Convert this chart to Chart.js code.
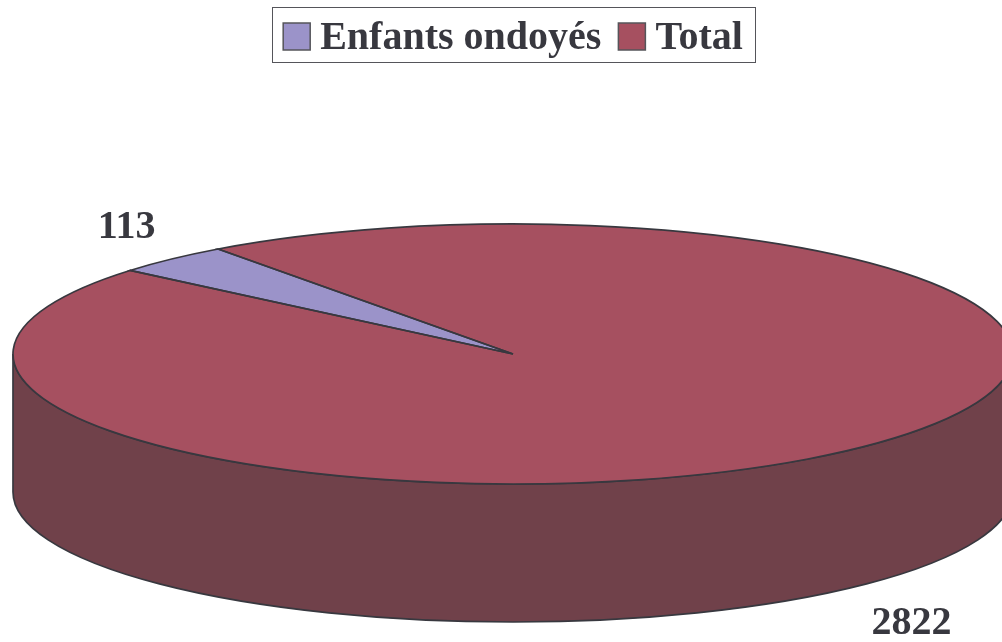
<!DOCTYPE html>
<html>
<head>
<meta charset="utf-8">
<style>html,body{margin:0;padding:0;background:#fff}#wrap{width:1002px;height:642px;position:relative;overflow:hidden}</style>
<script src="https://cdn.jsdelivr.net/npm/chart.js@4/dist/chart.umd.min.js"></script>
</head>
<body>
<div id="wrap"><canvas id="c" width="1002" height="642"></canvas></div>
<script>
const categories = ['Enfants ondoyés', 'Total'];
const values = [113, 2822];
const sliceColors = ['#9b93c9', '#a65060'];
const sideColors = ['#5c5878', '#70414a'];
const labelOffsets = [[-45, -31], [57, 37]];

const INK = '#38383f';
const FONT = 'bold 40px "Liberation Serif"';
const TILT = 0.26;
const DEPTH = 138;

function props(arc) {
  return arc.getProps(['x', 'y', 'startAngle', 'endAngle', 'outerRadius'], true);
}

const pie3d = {
  id: 'pie3d',
  beforeDatasetsDraw(chart) {
    const ctx = chart.ctx;
    const arcs = chart.getDatasetMeta(0).data;
    arcs.forEach((arc, i) => {
      const p = props(arc);
      const ry = p.outerRadius * TILT;
      for (const shift of [0, 2 * Math.PI, -2 * Math.PI]) {
        const a = Math.max(p.startAngle + shift, 0);
        const b = Math.min(p.endAngle + shift, Math.PI);
        if (b <= a) continue;
        ctx.save();
        ctx.beginPath();
        ctx.ellipse(p.x, p.y + DEPTH, p.outerRadius, ry, 0, a, b);
        ctx.ellipse(p.x, p.y, p.outerRadius, ry, 0, b, a, true);
        ctx.closePath();
        ctx.fillStyle = sideColors[i];
        ctx.fill();
        ctx.strokeStyle = INK;
        ctx.lineWidth = 1.7;
        ctx.stroke();
        ctx.restore();
      }
    });
    const p0 = props(arcs[0]);
    ctx.save();
    ctx.translate(p0.x, p0.y);
    ctx.scale(1, TILT);
    ctx.translate(-p0.x, -p0.y);
  },
  afterDatasetsDraw(chart) {
    const ctx = chart.ctx;
    ctx.restore();
    const arcs = chart.getDatasetMeta(0).data;
    arcs.forEach((arc, i) => {
      const p = props(arc);
      const ry = p.outerRadius * TILT;
      ctx.save();
      ctx.beginPath();
      ctx.moveTo(p.x, p.y);
      ctx.ellipse(p.x, p.y, p.outerRadius, ry, 0, p.startAngle, p.endAngle);
      ctx.closePath();
      ctx.strokeStyle = INK;
      ctx.lineWidth = 1.7;
      ctx.lineJoin = 'miter';
      ctx.stroke();
      ctx.restore();

      const mid = (p.startAngle + p.endAngle) / 2;
      const below = Math.sin(mid) > 0 ? DEPTH : 0;
      const lx = p.x + Math.cos(mid) * p.outerRadius + labelOffsets[i][0];
      const ly = p.y + Math.sin(mid) * ry + below + labelOffsets[i][1];
      ctx.save();
      ctx.font = FONT;
      ctx.fillStyle = INK;
      ctx.textAlign = 'center';
      ctx.textBaseline = 'middle';
      ctx.fillText(String(values[i]), lx, ly);
      ctx.restore();
    });
  },
  afterDraw(chart) {
    const ctx = chart.ctx;
    const lg = chart.legend;
    const boxes = lg.legendHitBoxes;
    const first = boxes[0], last = boxes[boxes.length - 1];
    ctx.save();
    ctx.strokeStyle = '#55555a';
    ctx.lineWidth = 1;
    const x0 = Math.round(first.left - 11) + 0.5;
    const x1 = Math.round(last.left + last.width + 12) + 0.5;
    ctx.strokeRect(x0, 7.5, x1 - x0, 55);
    boxes.forEach((b, i) => {
      ctx.fillStyle = sliceColors[i];
      ctx.fillRect(b.left, 23, 27, 27);
      ctx.strokeStyle = '#55555a';
      ctx.lineWidth = 1.5;
      ctx.strokeRect(b.left, 23, 27, 27);
    });
    ctx.restore();
  }
};

new Chart(document.getElementById('c'), {
  type: 'pie',
  data: {
    labels: categories,
    datasets: [{ data: values, backgroundColor: sliceColors, borderWidth: 0, hoverOffset: 0 }]
  },
  options: {
    responsive: false,
    animation: false,
    rotation: -50,
    radius: 500,
    events: [],
    layout: { padding: { left: 24, top: 2, right: 0, bottom: 3 } },
    plugins: {
      tooltip: { enabled: false },
      title: { display: false },
      legend: {
        position: 'top',
        align: 'center',
        labels: {
          boxWidth: 17,
          boxHeight: 1,
          padding: 17,
          color: INK,
          font: { family: '"Liberation Serif"', size: 40, weight: 'bold' },
          generateLabels: () => categories.map((t, i) => ({
            text: t, fillStyle: 'rgba(0,0,0,0)', strokeStyle: 'rgba(0,0,0,0)', fontColor: INK, lineWidth: 0, index: i, hidden: false
          }))
        }
      }
    }
  },
  plugins: [pie3d]
});
</script>
</body>
</html>
